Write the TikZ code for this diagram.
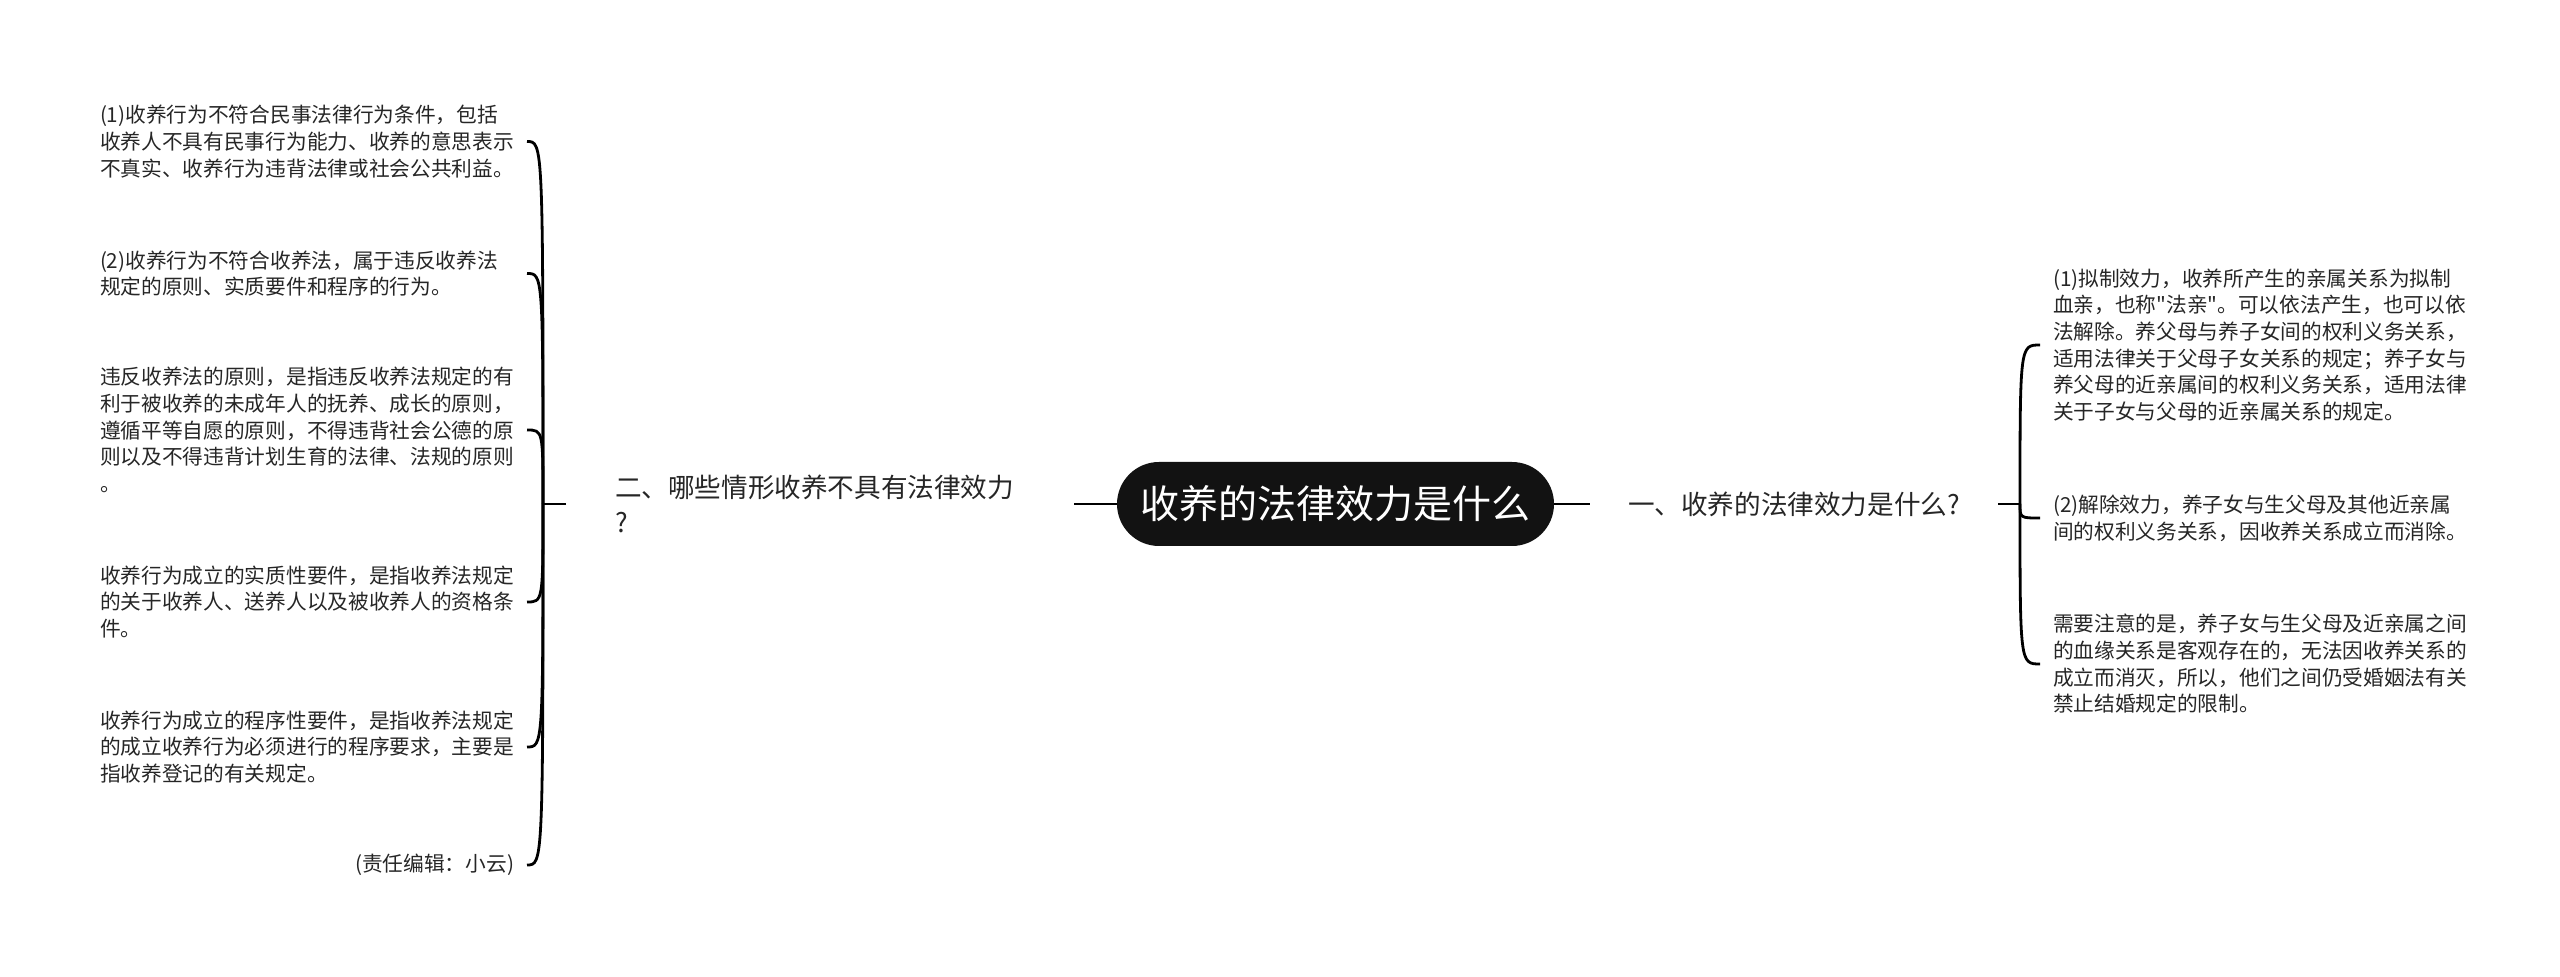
\documentclass[tikz,border=0pt]{standalone}
\usepackage{fontspec}
\setmainfont{Noto Sans CJK SC}[Ligatures=TeXOff]
\begin{document}
\begin{tikzpicture}[x=0.5pt,y=-0.5pt,
        every node/.style={inner sep=0pt, outer sep=0pt},
        root/.style={fill=black!93, text=white, rounded corners=21pt, minimum width=218.5pt, minimum height=42pt, font=\fontsize{19.5pt}{23pt}\selectfont},
        branch/.style={align=left, text=black!85, font=\fontsize{13.3pt}{17.5pt}\selectfont},
        leaf/.style={align=left, text width=207pt, outer xsep=6.5pt, text=black!85, font=\fontsize{10.35pt}{13.35pt}\selectfont},
        note/.style={outer xsep=6.5pt, text=black!85, font=\fontsize{10.35pt}{13.35pt}\selectfont},
        link/.style={draw=black, line width=1.4pt}]
    \useasboundingbox (0,0) rectangle (2560,977);

    \node[root] (root) at (1335.5,504) {收养的法律效力是什么};
    \node[branch, text width=205pt, minimum width=254pt] (l) at (820,504) {二、哪些情形收养不具有法律效力\\?};
    \node[branch, minimum width=204pt] (r) at (1794,504) {一、收养的法律效力是什么?};
    \coordinate (jl) at (543,504);
    \coordinate (jr) at (2020,504);

    % left leaves
    \node[leaf, anchor=east] (l1) at (527,141.5) {(1)收养行为不符合民事法律行为条件，包括\\收养人不具有民事行为能力、收养的意思表示\\不真实、收养行为违背法律或社会公共利益。};
    \node[leaf, anchor=east] (l2) at (527,273.5) {(2)收养行为不符合收养法，属于违反收养法\\规定的原则、实质要件和程序的行为。};
    \node[leaf, anchor=east] (l3) at (527,430) {违反收养法的原则，是指违反收养法规定的有\\利于被收养的未成年人的抚养、成长的原则，\\遵循平等自愿的原则，不得违背社会公德的原\\则以及不得违背计划生育的法律、法规的原则\\。};
    \node[leaf, anchor=east] (l4) at (527,602) {收养行为成立的实质性要件，是指收养法规定\\的关于收养人、送养人以及被收养人的资格条\\件。};
    \node[leaf, anchor=east] (l5) at (527,747) {收养行为成立的程序性要件，是指收养法规定\\的成立收养行为必须进行的程序要求，主要是\\指收养登记的有关规定。};
    \node[note, anchor=east] (l6) at (527,865) {(责任编辑：小云)};

    % right leaves
    \node[leaf, anchor=west] (r1) at (2040,345) {(1)拟制效力，收养所产生的亲属关系为拟制\\血亲，也称"法亲"。可以依法产生，也可以依\\法解除。养父母与养子女间的权利义务关系，\\适用法律关于父母子女关系的规定；养子女与\\养父母的近亲属间的权利义务关系，适用法律\\关于子女与父母的近亲属关系的规定。};
    \node[leaf, anchor=west] (r2) at (2040,518) {(2)解除效力，养子女与生父母及其他近亲属\\间的权利义务关系，因收养关系成立而消除。};
    \node[leaf, anchor=west] (r3) at (2040,664) {需要注意的是，养子女与生父母及近亲属之间\\的血缘关系是客观存在的，无法因收养关系的\\成立而消灭，所以，他们之间仍受婚姻法有关\\禁止结婚规定的限制。};

    \draw[link] (root.west) -- (l.east);
    \draw[link] (root.east) -- (r.west);
    \draw[link] (l.west) -- (jl);
    \draw[link] (r.east) -- (jr);
    \foreach \n in {l1,l2,l3,l4,l5,l6}
        \draw[link] (jl) .. controls (jl |- \n.east) .. (\n.east);
    \foreach \n in {r1,r2,r3}
        \draw[link] (jr) .. controls (jr |- \n.west) .. (\n.west);
\end{tikzpicture}
\end{document}
